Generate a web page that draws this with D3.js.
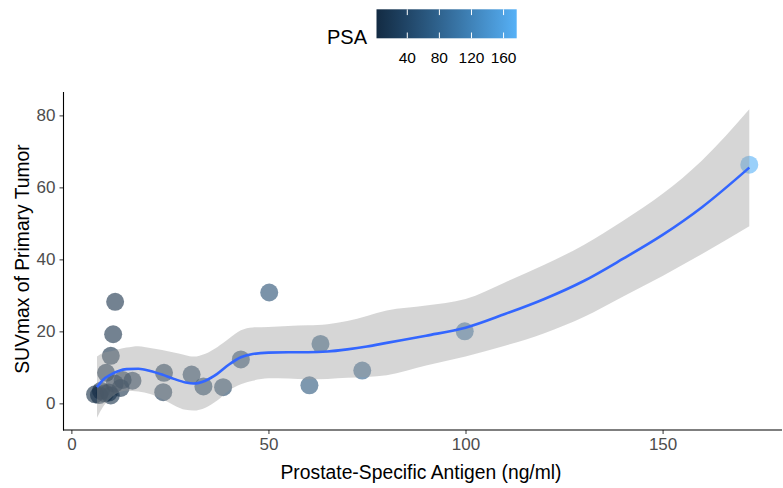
<!DOCTYPE html>
<html><head><meta charset="utf-8">
<script src="https://cdn.jsdelivr.net/npm/d3@7"></script>
<style>body{margin:0;background:#fff;} text{font-family:"Liberation Sans",Arial,sans-serif;}</style>
</head><body><svg id="c" width="783" height="488"></svg>
<script>
// PSA (ng/ml) and SUVmax of each patient
const psa    = [6.0, 7.0, 7.5, 8.5, 9.5, 10.0, 8.8, 10.0, 10.6, 11.1, 11.0, 12.5, 13.0, 15.5, 23.5, 23.3, 30.5, 33.5, 38.5, 43.0, 50.2, 60.4, 63.2, 73.8, 99.8, 172.0];
const suvmax = [2.5, 2.3, 3.5, 2.8, 3.0, 2.2, 8.5, 13.2, 19.2, 28.2, 5.5, 4.3, 6.5, 6.3, 8.5, 3.1, 8.0, 4.7, 4.5, 12.2, 30.8, 5.0, 16.5, 9.1, 20.0, 66.3];
// loess fit with confidence band
const fitX   = [6.5, 8, 10, 12, 14, 17, 20, 23, 26, 29, 31, 34, 37, 40, 43, 46, 50, 55, 60, 65, 70, 75, 80, 90, 100, 110, 120, 130, 140, 150, 160, 172];
const fitY   = [4.5, 6.5, 8.0, 9.0, 9.5, 9.6, 9.0, 8.0, 6.8, 5.8, 5.5, 6.3, 8.2, 10.8, 12.8, 13.7, 14.1, 14.2, 14.2, 14.4, 15.0, 15.8, 16.8, 18.8, 21.0, 24.8, 29.0, 34.0, 40.2, 46.8, 54.5, 65.5];
const fitLo  = [-4.0, -1.0, 1.5, 3.0, 3.5, 3.3, 2.6, 1.2, -0.5, -1.8, -2.0, -1.2, 0.8, 3.6, 5.3, 6.3, 7.0, 6.9, 6.7, 6.8, 7.1, 7.3, 7.8, 10.5, 13.0, 16.0, 19.5, 24.0, 29.7, 35.4, 41.5, 49.2];
const fitHi  = [13.0, 14.0, 14.5, 15.0, 15.5, 15.9, 15.4, 14.8, 14.1, 13.4, 13.0, 13.8, 15.6, 18.0, 20.3, 21.1, 21.2, 21.5, 21.7, 22.0, 22.9, 24.3, 25.8, 27.2, 29.0, 33.6, 38.5, 44.0, 50.7, 58.2, 67.5, 81.7];
const xTicks = [0, 50, 100, 150];
const yTicks = [0, 20, 40, 60, 80];
const legendTicks = [40, 80, 120, 160];

const svg = d3.select("#c");
const x = d3.scaleLinear().domain([-2, 180.3]).range([63.5, 782]);
const y = d3.scaleLinear().domain([-7.4, 86.5]).range([430, 92]);
const psaExtent = d3.extent(psa);
const col = d3.scaleLinear().domain(psaExtent).range(["#132B43", "#56B1F7"]).interpolate(d3.interpolateLab);

// points
svg.append("g").selectAll("circle").data(psa.map((p, i) => ({p, s: suvmax[i]})))
  .join("circle")
  .attr("cx", d => x(d.p)).attr("cy", d => y(d.s)).attr("r", 9)
  .attr("fill", d => col(d.p)).attr("fill-opacity", 0.6);

// ribbon and line
const fit = fitX.map((v, i) => ({x: v, y: fitY[i], lo: fitLo[i], hi: fitHi[i]}));
svg.append("path").datum(fit)
  .attr("d", d3.area().x(d => x(d.x)).y0(d => y(d.lo)).y1(d => y(d.hi)).curve(d3.curveMonotoneX))
  .attr("fill", "#999999").attr("fill-opacity", 0.4);
svg.append("path").datum(fit)
  .attr("d", d3.line().x(d => x(d.x)).y(d => y(d.y)).curve(d3.curveMonotoneX))
  .attr("fill", "none").attr("stroke", "#3366FF").attr("stroke-width", 2.6);

// axes
const ax = svg.append("g").attr("transform", "translate(0,430)")
  .call(d3.axisBottom(x).tickValues(xTicks).tickSize(4).tickPadding(4));
const ay = svg.append("g").attr("transform", "translate(63.5,0)")
  .call(d3.axisLeft(y).tickValues(yTicks).tickSize(4).tickPadding(4));
[ax, ay].forEach(g => {
  g.select(".domain").remove();
  g.selectAll(".tick line").attr("stroke", "#333333").attr("stroke-width", 1);
  g.selectAll(".tick text").attr("fill", "#4D4D4D").style("font-size", "17px");
});
svg.append("line").attr("x1", 63.5).attr("x2", 63.5).attr("y1", 92).attr("y2", 430.5).attr("stroke", "#000").attr("stroke-width", 1.1);
svg.append("line").attr("x1", 63).attr("x2", 782).attr("y1", 430).attr("y2", 430).attr("stroke", "#000").attr("stroke-width", 1.1);

svg.append("text").attr("transform", "translate(421,479) scale(0.92,1)").attr("text-anchor", "middle")
  .style("font-size", "21px").attr("fill", "#000").text("Prostate-Specific Antigen (ng/ml)");
svg.append("text").attr("transform", "translate(29,259) rotate(-90) scale(0.92,1)").attr("text-anchor", "middle")
  .style("font-size", "21px").attr("fill", "#000").text("SUVmax of Primary Tumor");

// colour legend
const bx0 = 376.5, bx1 = 516.7, by0 = 9.3, by1 = 38.3;
const defs = svg.append("defs");
const grad = defs.append("linearGradient").attr("id", "g1");
d3.range(0, 1.0001, 0.1).forEach(t => grad.append("stop").attr("offset", t).attr("stop-color", col(psaExtent[0] + t * (psaExtent[1] - psaExtent[0]))));
svg.append("rect").attr("x", bx0).attr("y", by0).attr("width", bx1 - bx0).attr("height", by1 - by0).attr("fill", "url(#g1)");
const half = (bx1 - bx0) / 40;
const lx = d3.scaleLinear().domain(psaExtent).range([bx0 + half, bx1 - half]);
const lg = svg.append("g");
legendTicks.forEach(v => {
  lg.append("line").attr("x1", lx(v)).attr("x2", lx(v)).attr("y1", by0).attr("y2", by0 + 5.8).attr("stroke", "#fff").attr("stroke-width", 1);
  lg.append("line").attr("x1", lx(v)).attr("x2", lx(v)).attr("y1", by1 - 5.8).attr("y2", by1).attr("stroke", "#fff").attr("stroke-width", 1);
  lg.append("text").attr("x", lx(v)).attr("y", 63).attr("text-anchor", "middle").style("font-size", "15.5px").attr("fill", "#000").text(v);
});
svg.append("text").attr("x", 327).attr("y", 44).style("font-size", "20px").attr("fill", "#000").text("PSA");
</script></body></html>
